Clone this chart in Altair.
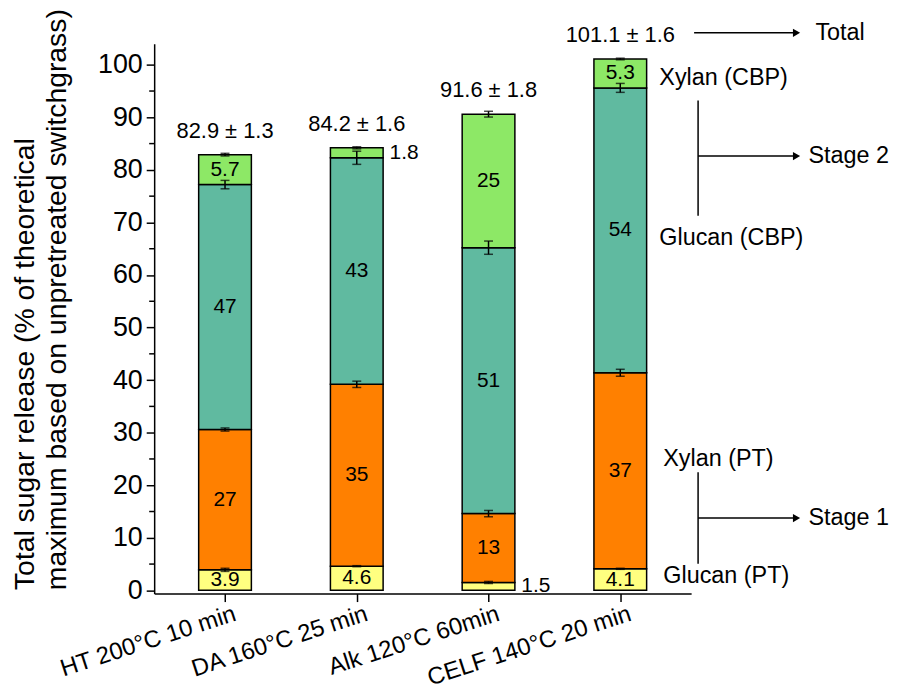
import altair as alt
import pandas as pd

categories = ["HT 200°C 10 min", "DA 160°C 25 min", "Alk 120°C 60min", "CELF 140°C 20 min"]
components = ["Glucan (PT)", "Xylan (PT)", "Glucan (CBP)", "Xylan (CBP)"]
colors = ["#FFFF80", "#FF8000", "#60BAA0", "#8DE866"]

glucan_pt = [3.9, 4.6, 1.5, 4.1]
xylan_pt = [26.7, 34.6, 13.1, 37.3]
glucan_cbp = [46.6, 43.1, 50.6, 54.2]
xylan_cbp = [5.7, 1.9, 25.4, 5.5]

err_glucan_pt = [0.3, 0.1, 0.2, 0.1]
err_xylan_pt = [0.3, 0.6, 0.6, 0.66]
err_glucan_cbp = [0.8, 1.25, 1.26, 0.85]
err_xylan_cbp = [0.25, 0.2, 0.55, 0.15]

label_glucan_pt = ["3.9", "4.6", "1.5", "4.1"]
label_xylan_pt = ["27", "35", "13", "37"]
label_glucan_cbp = ["47", "43", "51", "54"]
label_xylan_cbp = ["5.7", "1.8", "25", "5.3"]
outside_labels = [("DA 160°C 25 min", "Xylan (CBP)"), ("Alk 120°C 60min", "Glucan (PT)")]

total_labels = ["82.9 ± 1.3", "84.2 ± 1.6", "91.6 ± 1.8", "101.1 ± 1.6"]
y_ticks = list(range(0, 101, 10))
y_minor = list(range(5, 100, 10))

# ---- build tables ----
series = [glucan_pt, xylan_pt, glucan_cbp, xylan_cbp]
errs = [err_glucan_pt, err_xylan_pt, err_glucan_cbp, err_xylan_cbp]
labs = [label_glucan_pt, label_xylan_pt, label_glucan_cbp, label_xylan_cbp]
rows = []
for i, cat in enumerate(categories):
    base = 0.0
    for j, comp in enumerate(components):
        v = series[j][i]
        top = base + v
        rows.append({
            "cat": cat, "idx": i + 1, "comp": comp, "order": j,
            "y0": base, "y1": top, "mid": (base + top) / 2,
            "lo": top - errs[j][i], "hi": top + errs[j][i],
            "label": labs[j][i], "outside": (cat, comp) in outside_labels,
        })
        base = top
df = pd.DataFrame(rows)
tot = pd.DataFrame({"idx": [1, 2, 3, 4], "total": [sum(s[i] for s in series) for i in range(4)],
                    "label": total_labels})
minor_df = pd.DataFrame({"v": y_minor})

W, H = 540, 553
L, T = 155, 42
FONT = "Liberation Sans"

xscale = alt.Scale(domain=[0.5, 4.5], nice=False, zero=False)
yscale = alt.Scale(domain=[-0.62, 104], nice=False, zero=False)

label_expr = "[" + ",".join("'" + c + "'" for c in categories) + "][datum.value - 1]"

bars = alt.Chart(df).mark_bar(stroke="black", strokeWidth=1.5, size=53).encode(
    x=alt.X("idx:Q", scale=xscale, axis=alt.Axis(
        values=[1, 2, 3, 4], labelExpr=label_expr, title=None, grid=False,
        labelAngle=-18, labelAlign="right", labelBaseline="top", labelFontSize=24,
        labelFont=FONT, labelColor="black", tickSize=8, tickWidth=1.5, tickColor="black",
        domainColor="black", domainWidth=1.5, labelPadding=0, labelOffset=6,
        labelOverlap=False, labelLimit=400, labelBound=False)),
    y=alt.Y("y0:Q", scale=yscale, axis=alt.Axis(
        values=y_ticks, grid=False, tickSize=8, tickWidth=1.5, tickColor="black",
        domainColor="black", domainWidth=1.5, labelFontSize=27, labelFont=FONT,
        labelColor="black", labelPadding=4,
        title=["Total sugar release (% of theoretical",
               "maximum based on unpretreated switchgrass)"],
        titleFontSize=28.5, titleFont=FONT, titleFontWeight="normal", titleColor="black",
        titleLineHeight=32, titleAlign="left", titleBaseline="middle",
        titleX=-130, titleY=549, titleAngle=270)),
    y2="y1:Q",
    color=alt.Color("comp:N", scale=alt.Scale(domain=components, range=colors), legend=None),
    order="order:Q",
)

err_rule = alt.Chart(df).mark_rule(color="black", strokeWidth=1.5).encode(
    x=alt.X("idx:Q", scale=xscale), y=alt.Y("lo:Q", scale=yscale), y2="hi:Q")
cap_lo = alt.Chart(df).mark_tick(color="black", orient="horizontal", size=9, thickness=1.5).encode(
    x=alt.X("idx:Q", scale=xscale), y=alt.Y("lo:Q", scale=yscale))
cap_hi = alt.Chart(df).mark_tick(color="black", orient="horizontal", size=9, thickness=1.5).encode(
    x=alt.X("idx:Q", scale=xscale), y=alt.Y("hi:Q", scale=yscale))

inside = alt.Chart(df).transform_filter("!datum.outside").mark_text(
    fontSize=21, font=FONT, color="black", baseline="middle").encode(
    x=alt.X("idx:Q", scale=xscale), y=alt.Y("mid:Q", scale=yscale), text="label:N")
outside = alt.Chart(df).transform_filter("datum.outside").mark_text(
    fontSize=21, font=FONT, color="black", baseline="middle", align="left", dx=33).encode(
    x=alt.X("idx:Q", scale=xscale), y=alt.Y("mid:Q", scale=yscale), text="label:N")

totals = alt.Chart(tot).mark_text(fontSize=22, font=FONT, color="black", dy=-17,
                                   baseline="alphabetic").encode(
    x=alt.X("idx:Q", scale=xscale), y=alt.Y("total:Q", scale=yscale), text="label:N")

minor = alt.Chart(minor_df).mark_rule(color="black", strokeWidth=1.5).encode(
    x=alt.value(-5), x2=alt.value(0), y=alt.Y("v:Q", scale=yscale))

one = pd.DataFrame({"a": [0]})


def note(text, px, py):
    return alt.Chart(one).mark_text(fontSize=23.5, font=FONT, color="black", align="left",
                                    baseline="middle").encode(
        x=alt.value(px - L), y=alt.value(py - T), text=alt.value(text))


def hline(x1, x2, py):
    return alt.Chart(one).mark_rule(color="black", strokeWidth=1.5).encode(
        x=alt.value(x1 - L), x2=alt.value(x2 - L), y=alt.value(py - T))


def vline(px, y1, y2):
    return alt.Chart(one).mark_rule(color="black", strokeWidth=1.5).encode(
        x=alt.value(px - L), y=alt.value(y1 - T), y2=alt.value(y2 - T))


def head(px, py):
    return alt.Chart(one).mark_point(shape="triangle-right", filled=True, color="black",
                                     size=70, opacity=1).encode(
        x=alt.value(px - L), y=alt.value(py - T))


notes = [
    note("Total", 820, 31), hline(698, 800, 31), head(801, 31),
    note("Xylan (CBP)", 663, 77), vline(702, 99, 215), hline(702, 800, 155), head(801, 155),
    note("Stage 2", 813, 155), note("Glucan (CBP)", 663, 237),
    note("Xylan (PT)", 667, 460), vline(702, 473, 565), hline(702, 800, 519), head(801, 519),
    note("Stage 1", 813, 519), note("Glucan (PT)", 667, 577),
]

chart = alt.layer(bars, err_rule, cap_lo, cap_hi, inside, outside, totals, minor, *notes).properties(
    width=W, height=H,
    autosize=alt.AutoSizeParams(type="none"),
    padding={"left": L - 8, "top": T - 8, "right": 200, "bottom": 96},
).configure_view(stroke=None)

chart.save("out.html", embed_options={"renderer": "svg", "actions": False})
